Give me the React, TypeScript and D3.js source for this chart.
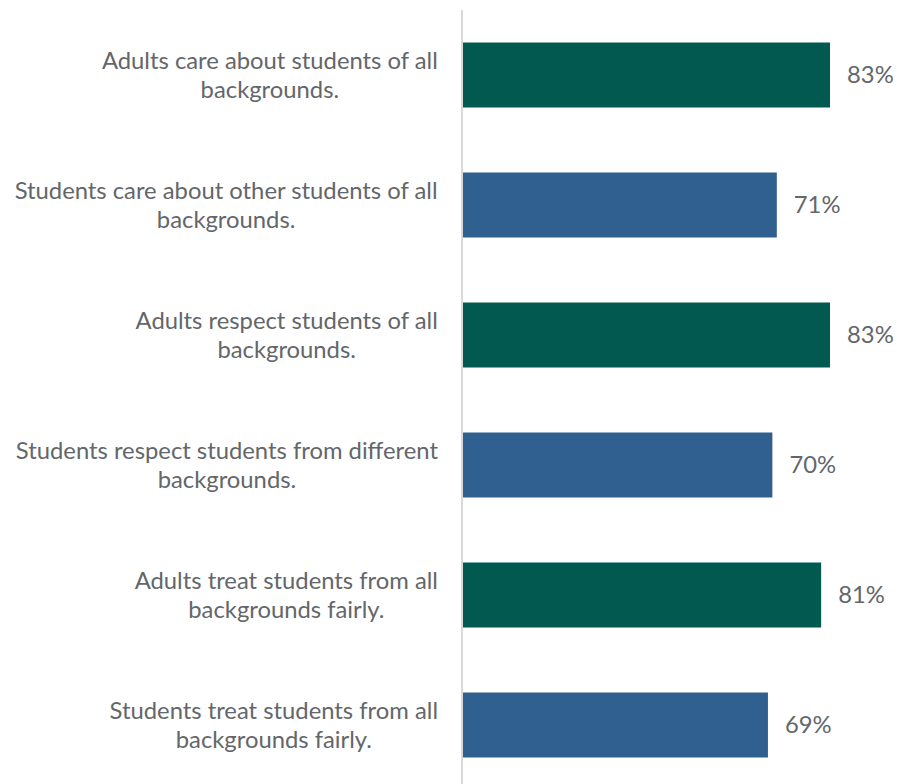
import React from "react";
import * as d3 from "d3";

const categories: string[][] = [
  ["Adults care about students of all", "backgrounds."],
  ["Students care about other students of all", "backgrounds."],
  ["Adults respect students of all", "backgrounds."],
  ["Students respect students from different", "backgrounds."],
  ["Adults treat students from all", "backgrounds fairly."],
  ["Students treat students from all", "backgrounds fairly."],
];
const values = [83, 71, 83, 70, 81, 69];
const groups = ["adult", "student", "adult", "student", "adult", "student"];
const colors: Record<string, string> = { adult: "#02594F", student: "#30608F" };

const FONT = "Lato, 'Open Sans', sans-serif";
const FS = 23.8;
const WEIGHT = 400;

function measure(s: string): number {
  const c = document.createElement("canvas").getContext("2d");
  if (!c) return s.length * FS * 0.5;
  c.font = `${WEIGHT} ${FS}px ${FONT}`;
  return c.measureText(s).width;
}

export default function App() {
  const W = 897, H = 784;
  const x0 = 462;
  const x = d3.scaleLinear().domain([0, 100]).range([x0, x0 + 443.4]);
  const y = d3
    .scaleBand<number>()
    .domain(d3.range(values.length))
    .range([10, 790])
    .paddingInner(0.5)
    .paddingOuter(0.25);
  const textColor = "#63666A";
  return (
    <svg width={W} height={H} style={{ position: "absolute", left: 0, top: 0 }}>
      <rect width={W} height={H} fill="#fff" />
      {values.map((v, i) => {
        const yt = y(i)!;
        const cy = yt + y.bandwidth() / 2;
        const maxW = Math.max(...categories[i].map(measure));
        const cx = 438 - maxW / 2;
        return (
          <g key={i}>
            <rect x={x(0)} y={yt} width={x(v) - x(0)} height={y.bandwidth()} fill={colors[groups[i]]} />
            <text
              x={x(v) + 17}
              y={cy}
              dy="0.35em"
              fontFamily={FONT}
              fontSize={FS}
              fontWeight={WEIGHT}
              fill={textColor}
            >
              {v}%
            </text>
            <text textAnchor="middle" fontFamily={FONT} fontSize={FS} fontWeight={WEIGHT} fill={textColor}>
              {categories[i].map((line, j) => (
                <tspan key={j} x={cx} y={cy - 14.5 + j * 29} dy="0.35em">
                  {line}
                </tspan>
              ))}
            </text>
          </g>
        );
      })}
      <line x1={x0} x2={x0} y1={10} y2={H} stroke="#D9D9D9" strokeWidth={2} />
    </svg>
  );
}
